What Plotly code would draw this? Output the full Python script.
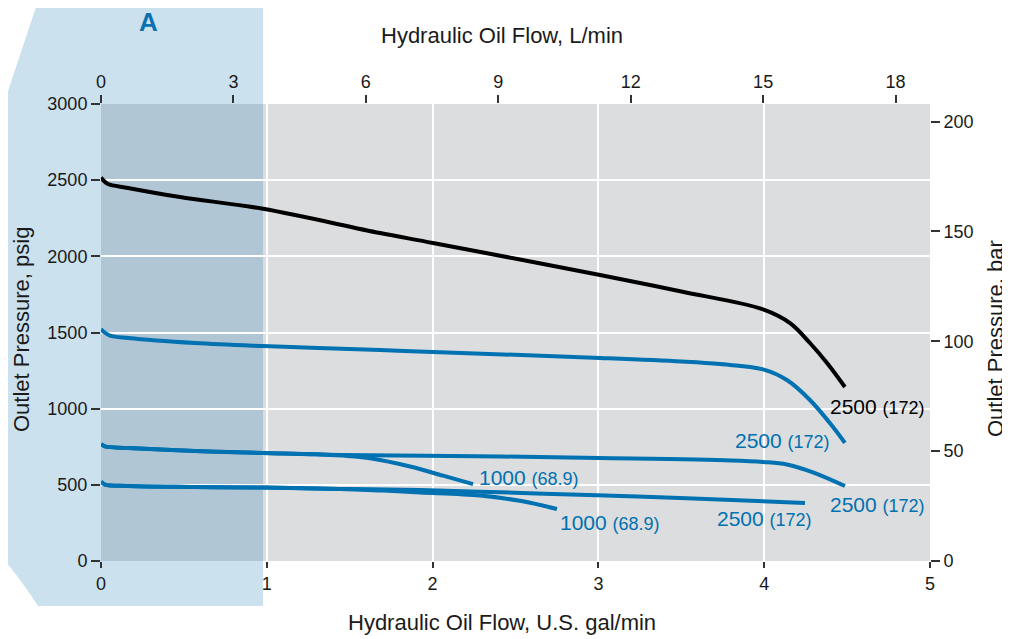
import plotly.graph_objects as go

# ---------------- data ----------------
# Flow in U.S. gal/min, pressure in psig
flow_black = [0.0, 0.018, 0.042, 0.163, 0.476, 0.977, 1.683, 2.002, 3.010, 3.500, 3.993, 4.156, 4.276, 4.379, 4.487]
psi_black = [2518, 2495, 2475, 2449, 2389, 2312, 2153, 2088, 1877, 1769, 1652, 1562, 1431, 1300, 1142]

flow_b1 = [0.0, 0.018, 0.054, 0.163, 0.567, 0.977, 1.683, 2.002, 3.010, 3.500, 3.733, 3.993, 4.137, 4.276, 4.415, 4.487]
psi_b1 = [1523, 1503, 1480, 1464, 1431, 1411, 1385, 1372, 1333, 1310, 1293, 1258, 1188, 1057, 880, 775]

flow_b2 = [0.0, 0.024, 0.163, 0.567, 0.977, 1.441, 2.407, 3.000, 3.800, 3.993, 4.137, 4.294, 4.487]
psi_b2 = [768, 752, 742, 722, 709, 696, 686, 676, 660, 650, 634, 582, 492]

flow_b3 = [0.0, 0.024, 0.163, 0.567, 0.977, 1.300, 1.500, 1.622, 1.864, 2.063, 2.244]
psi_b3 = [768, 752, 742, 722, 709, 700, 688, 674, 620, 560, 505]

flow_b4 = [0.0, 0.024, 0.163, 0.567, 0.977, 1.441, 1.924, 2.286, 2.992, 3.492, 4.246]
psi_b4 = [522, 502, 492, 486, 482, 473, 466, 455, 431, 414, 381]

flow_b5 = [0.0, 0.024, 0.163, 0.567, 0.977, 1.441, 1.700, 1.924, 2.286, 2.527, 2.750]
psi_b5 = [522, 502, 492, 486, 482, 473, 462, 450, 430, 395, 341]

# curve labels
label_flow = [4.385, 3.812, 2.268, 2.756, 3.703, 4.385]
label_psi = [1017, 794, 551, 256, 276, 368]
label_main = ["2500", "2500", "1000", "1000", "2500", "2500"]
label_sub = ["(172)", "(172)", "(68.9)", "(68.9)", "(172)", "(172)"]
label_dark = [True, False, False, False, False, False]

gal_ticks = [0, 1, 2, 3, 4, 5]
lpm_ticks = [0, 3, 6, 9, 12, 15, 18]
psi_ticks = [0, 500, 1000, 1500, 2000, 2500, 3000]
bar_ticks = [0, 50, 100, 150, 200]
zone_a_end = 0.977  # gal/min

# ---------------- styling ----------------
BLUE = "#0071B1"
BLACK = "#000000"
TXT = "#1a1a1a"
FONT = "Liberation Sans, Arial, Helvetica, sans-serif"
OFF = 8  # page body margin
W, H = 1010 - OFF, 639 - OFF
L, T = 101 - OFF, 104 - OFF
R, B = 80, 78
PW, PH = W - L - R, H - T - B


def px(x, y):
    """screen pixel -> paper coordinates"""
    return (x - OFF - L) / PW, (H - B - (y - OFF)) / PH


fig = go.Figure()

series = [
    (flow_black, psi_black, BLACK),
    (flow_b3, psi_b3, BLUE),
    (flow_b5, psi_b5, BLUE),
    (flow_b1, psi_b1, BLUE),
    (flow_b2, psi_b2, BLUE),
    (flow_b4, psi_b4, BLUE),
]
for fx, fy, col in series:
    fig.add_trace(go.Scatter(x=fx, y=fy, mode="lines",
                             line=dict(color=col, width=4, shape="spline", smoothing=1.0),
                             hoverinfo="skip", showlegend=False))

# dummy traces to activate secondary axes
fig.add_trace(go.Scatter(x=[], y=[], xaxis="x2", yaxis="y", showlegend=False, hoverinfo="skip"))
fig.add_trace(go.Scatter(x=[], y=[], xaxis="x", yaxis="y2", showlegend=False, hoverinfo="skip"))

# Zone A panel (outside the plot area)
pts = [(37, 4), (263, 4), (263, 104), (101, 104), (101, 561), (263, 561), (263, 606), (38, 606)]
path = "M " + " L ".join(f"{px(a, b)[0]:.5f},{px(a, b)[1]:.5f}" for a, b in pts)
qc = px(20, 578)
qe = px(0, 555)
path += f" Q {qc[0]:.5f},{qc[1]:.5f} {qe[0]:.5f},{qe[1]:.5f}"
p5 = px(0, 115)
path += f" L {p5[0]:.5f},{p5[1]:.5f} Z"
fig.add_shape(type="path", path=path, xref="paper", yref="paper",
              fillcolor="#CCE1EE", line=dict(width=0), layer="below")
# Zone A overlay in the plot area
fig.add_shape(type="rect", xref="x", yref="paper", x0=0, x1=zone_a_end, y0=0, y1=1,
              fillcolor="rgba(146,184,205,0.6)", line=dict(width=0), layer="between")

# curve labels
for fx, fy, m, s, dark in zip(label_flow, label_psi, label_main, label_sub, label_dark):
    fig.add_annotation(x=fx, y=fy, xref="x", yref="y", showarrow=False,
                       xanchor="left", yanchor="middle",
                       text=f"{m} <span style='font-size:18px'>{s}</span>",
                       font=dict(family=FONT, size=21, color=BLACK if dark else BLUE))


def title(x, y, text, angle=0, size=22, color=TXT):
    ax, ay = px(x, y)
    fig.add_annotation(x=ax, y=ay, xref="paper", yref="paper", showarrow=False,
                       xanchor="center", yanchor="middle", textangle=angle,
                       text=text, font=dict(family=FONT, size=size, color=color))


title(502, 35, "Hydraulic Oil Flow, L/min")
title(502, 622, "Hydraulic Oil Flow, U.S. gal/min")
title(21, 330, "Outlet Pressure, psig", angle=-90)
title(995, 338, "Outlet Pressure, bar", angle=-90)
title(148, 22, "<b>A</b>", size=26, color="#0A72B0")

tickfont = dict(family=FONT, size=18, color=TXT)
fig.update_layout(
    width=W, height=H,
    margin=dict(l=L, r=R, t=T, b=B, pad=0, autoexpand=False),
    paper_bgcolor="white", plot_bgcolor="#DCDDDF",
    showlegend=False,
    xaxis=dict(range=[0, 5], tickvals=gal_ticks, ticks="outside", ticklen=6, tickwidth=1.5,
               tickcolor="#333", showgrid=True, gridcolor="white", gridwidth=2,
               zeroline=False, showline=False, tickfont=tickfont),
    xaxis2=dict(range=[0, 18.78], tickvals=lpm_ticks, overlaying="x", side="top", anchor="y",
                ticks="outside", ticklen=8, tickwidth=1.5, tickcolor="#333",
                showgrid=False, zeroline=False, showline=False, tickfont=tickfont),
    yaxis=dict(range=[0, 3000], tickvals=psi_ticks, ticks="outside", ticklen=9, tickwidth=1.5,
               tickcolor="#333", showgrid=True, gridcolor="white", gridwidth=2,
               zeroline=False, showline=False, tickfont=tickfont),
    yaxis2=dict(range=[0, 208], tickvals=bar_ticks, overlaying="y", side="right", anchor="x",
                ticks="outside", ticklen=9, tickwidth=1.5, tickcolor="#333",
                showgrid=False, zeroline=False, showline=False, tickfont=tickfont),
)

fig.write_html("out.html")
